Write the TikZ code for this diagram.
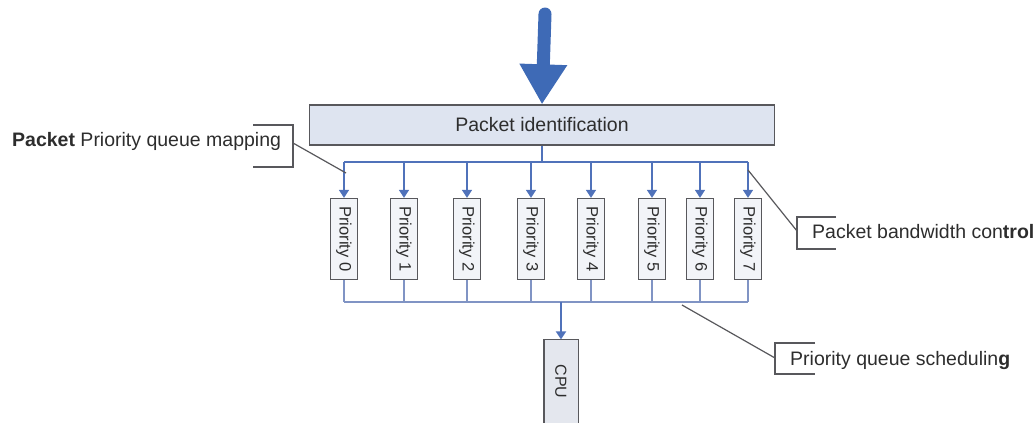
\documentclass[tikz,border=0pt]{standalone}
\usepackage{fontspec}
\setsansfont{Liberation Sans}
\usepackage{graphicx}
\usetikzlibrary{arrows.meta}
\definecolor{bigblue}{RGB}{62,106,182}
\definecolor{busblue}{RGB}{80,114,186}
\definecolor{lowblue}{RGB}{128,148,196}
\definecolor{boxgray}{RGB}{88,88,92}
\definecolor{idfill}{RGB}{222,228,240}
\definecolor{priofill}{RGB}{242,244,248}
\definecolor{cpufill}{RGB}{228,231,238}
\definecolor{notegray}{RGB}{45,45,45}
\begin{document}
\begin{tikzpicture}[x=1pt, y=-1pt, font=\sffamily, >={Triangle[width=10pt,length=8pt]},
          box/.style={draw=boxgray, line width=1.3pt, inner sep=0pt, text=notegray},
          idbox/.style={box, fill=idfill, minimum width=465pt, minimum height=40pt, font=\sffamily\fontsize{19.5}{23}\selectfont},
          prio/.style={box, fill=priofill, minimum width=27pt, minimum height=81pt, font=\sffamily\fontsize{16.5}{19}\selectfont},
          cpubox/.style={box, draw=none, fill=cpufill, minimum width=33pt, minimum height=83pt, font=\sffamily\fontsize{16}{19}\selectfont},
          bus/.style={draw=busblue, line width=1.6pt},
          lowbus/.style={draw=lowblue, line width=1.3pt},
          lead/.style={draw=boxgray, line width=1.2pt},
          note/.style={anchor=base west, inner sep=0pt, text=notegray, font=\sffamily\fontsize{19.5}{23}\selectfont}]
        \useasboundingbox (0,0) rectangle (1034,423);
        \clip (0,0) rectangle (1034,423);
        \coordinate (in) at (545,14);
        \node[idbox] (pid) at (542,125) {Packet identification};
        \draw[bigblue, line width=13pt, line cap=round, -{Triangle[width=45pt,length=40pt]}] (in) -- (pid.north);
        \coordinate (bt) at (0,162);
        \coordinate (bb) at (0,302);
        \foreach \i/\x in {0/344,1/404,2/467,3/531,4/591,5/652,6/700,7/748}{
          \node[prio] (p\i) at (\x,239) {\rotatebox{-90}{Priority \i}};
          \draw[bus,->] (p\i.north |- bt) -- (p\i.north);
          \draw[lowbus] (p\i.south) -- (p\i.south |- bb);
        }
        \draw[bus] (pid.south) -- (pid.south |- bt);
        \draw[bus] (p0.north |- bt) -- (p7.north |- bt);
        \draw[lowbus] (p0.south |- bb) -- (p7.south |- bb);
        \node[cpubox] (cpu) at (561,381.5) {\rotatebox{-90}{CPU}};
        \draw[draw=boxgray, line width=1.3pt] (cpu.south west) |- (cpu.north east) -- (cpu.south east);
        \draw[bus, line width=2.2pt, ->] (cpu.north |- bb) -- (cpu.north);
        \node[note] (nmap) at (12,146) {\textbf{Packet} Priority queue mapping};
        \coordinate (bmap) at (293,143);
        \coordinate (m0) at (346,173);
        \draw[lead] (253,125) -| (bmap) |- (253,167);
        \draw[lead] (bmap) -- (m0);
        \node[note] (nbw) at (812,238) {Packet bandwidth con\textbf{trol}};
        \coordinate (bbw) at (797,231);
        \coordinate (m7) at (748,170);
        \draw[lead] (836,217) -| (bbw) |- (836,249);
        \draw[lead] (m7) -- (bbw);
        \node[note] (nsc) at (790,365) {Priority queue schedulin\textbf{g}};
        \coordinate (bsc) at (775,358);
        \coordinate (s0) at (682,305);
        \draw[lead] (815,343) -| (bsc) |- (815,374);
        \draw[lead] (s0) -- (bsc);
      \end{tikzpicture}
\end{document}
